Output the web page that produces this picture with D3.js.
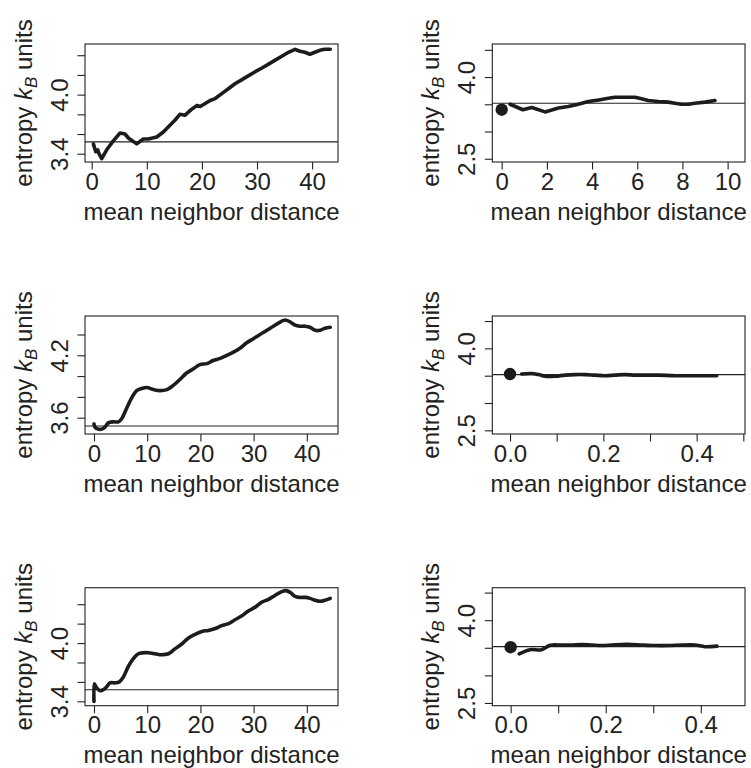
<!DOCTYPE html>
<html><head><meta charset="utf-8">
<script src="https://cdn.jsdelivr.net/npm/d3@7"></script>
<style>body{margin:0;background:#fff} svg{display:block}</style>
</head><body>
<svg id="chart" width="751" height="768"></svg>
<script>
// ---------- data ----------
const referenceEntropy = 3.52;

const p1Dist    = [0.30,0.73,1.09,1.32,1.81,2.72,3.92,5.14,6.04,6.65,8.17,9.37,10.28,11.8,13.0,14.2,15.1,16.0,16.9,18.1,19.1,19.7,20.6,21.5,22.4,23.6,24.8,26.0,27.2,28.4,29.6,30.9,32.1,33.3,34.5,35.7,36.9,37.8,38.7,39.6,40.5,41.4,42.3,43.3];
const p1Entropy = [3.50,3.42,3.44,3.40,3.35,3.44,3.53,3.61,3.60,3.56,3.50,3.55,3.55,3.57,3.62,3.69,3.74,3.80,3.79,3.85,3.89,3.88,3.91,3.94,3.96,4.01,4.06,4.11,4.15,4.19,4.23,4.27,4.31,4.35,4.39,4.43,4.46,4.44,4.43,4.41,4.43,4.45,4.46,4.46];

const p2Dist    = [0.37,0.94,1.33,1.92,2.51,2.95,3.39,3.83,4.30,4.72,5.01,5.45,5.90,6.19,6.49,6.93,7.37,7.67,7.96,8.26,8.55,9.00,9.44];
const p2Entropy = [3.50,3.40,3.44,3.36,3.43,3.46,3.50,3.55,3.58,3.61,3.63,3.63,3.63,3.60,3.57,3.55,3.54,3.52,3.50,3.50,3.52,3.54,3.57];
const p2Dot     = [0, 3.40];

const p3Dist    = [0,0.19,0.82,1.44,2.07,2.70,3.64,4.58,5.2,6.14,7.08,8.03,8.97,9.9,11.2,12.4,13.7,14.9,16.2,17.4,18.7,19.9,21.2,22.4,23.7,24.95,26.2,27.5,28.7,29.97,31.2,32.5,33.7,35.0,35.9,36.9,37.8,38.7,39.7,40.6,41.6,42.5,43.4,44.4];
const p3Entropy = [3.54,3.51,3.49,3.49,3.51,3.55,3.56,3.56,3.59,3.69,3.79,3.86,3.88,3.89,3.87,3.86,3.87,3.91,3.97,4.03,4.07,4.11,4.12,4.15,4.17,4.20,4.23,4.27,4.32,4.36,4.40,4.44,4.48,4.52,4.54,4.52,4.49,4.48,4.48,4.47,4.44,4.44,4.46,4.47];

const p4Dist    = [0.025,0.046,0.061,0.075,0.096,0.118,0.139,0.161,0.182,0.204,0.225,0.246,0.268,0.289,0.318,0.354,0.389,0.425,0.443];
const p4Entropy = [3.53,3.54,3.52,3.49,3.49,3.51,3.52,3.52,3.51,3.50,3.51,3.52,3.51,3.51,3.51,3.50,3.50,3.50,3.50];
const p4Dot     = [0, 3.53];

const p5Dist    = [0.0,0.05,0.19,0.45,1.13,1.76,2.38,3.0,3.95,4.76,5.52,6.46,7.4,8.34,9.28,10.2,11.5,12.7,14.0,15.2,16.5,17.7,19.0,20.3,21.5,22.8,24.0,25.3,26.5,27.8,29.0,30.3,31.5,32.8,34.0,35.3,36.1,36.9,37.8,38.7,39.7,40.6,41.6,42.5,43.4,44.4];
const p5Entropy = [3.40,3.58,3.57,3.54,3.51,3.52,3.55,3.59,3.59,3.60,3.65,3.76,3.84,3.89,3.90,3.90,3.89,3.88,3.89,3.94,3.99,4.05,4.09,4.12,4.13,4.15,4.18,4.20,4.24,4.28,4.33,4.37,4.42,4.45,4.49,4.53,4.54,4.52,4.48,4.47,4.47,4.46,4.44,4.43,4.44,4.46];

const p6Dist    = [0.018,0.041,0.065,0.083,0.107,0.128,0.149,0.171,0.192,0.213,0.234,0.255,0.276,0.304,0.332,0.36,0.388,0.409,0.434];
const p6Entropy = [3.39,3.465,3.465,3.545,3.55,3.55,3.56,3.55,3.54,3.55,3.56,3.56,3.55,3.54,3.54,3.55,3.55,3.52,3.53];
const p6Dot     = [0, 3.51];

const bigXTicks   = [0,10,20,30,40];
const smallXTicks = [0,2,4,6,8,10];
const fracXTicks  = [0,0.1,0.2,0.3,0.4,0.5];
const fracXTicks6 = [0,0.1,0.2,0.3,0.4];
const fracXLabels = [0,0.2,0.4];
const yTicksA  = [3.4,3.6,3.8,4.0,4.2,4.4];
const yLabelsA = [3.4,4.0];
const yTicksB  = [3.6,3.8,4.0,4.2,4.4];
const yLabelsB = [3.6,4.2];
const yTicksC  = [2.5,3.0,3.5,4.0,4.5];
const yLabelsC = [2.5,4.0];

const xTitle = "mean neighbor distance";

// ---------- layout ----------
const svg = d3.select("#chart");
const FONT = "'Liberation Sans', Arial, Helvetica, sans-serif";
const INK = "#222";
const colX = [[85,338],[492.3,745]];
const rowY = [[44,162],[316,434],[587.7,705.7]];

const panels = [
  {dist:p1Dist, ent:p1Entropy, dot:null,  c:0, r:0, xd:[-1.22,44.7],  yd:[3.316,4.514], xt:bigXTicks,   xl:bigXTicks,   yt:yTicksA, yl:yLabelsA, xf:d3.format("d"),   curve:d3.curveLinear},
  {dist:p2Dist, ent:p2Entropy, dot:p2Dot, c:1, r:0, xd:[-0.416,10.77], yd:[2.44,4.607],  xt:smallXTicks, xl:smallXTicks, yt:yTicksC, yl:yLabelsC, xf:d3.format("d"),   curve:d3.curveLinear},
  {dist:p3Dist, ent:p3Entropy, dot:null,  c:0, r:1, xd:[-1.69,45.86],  yd:[3.443,4.578], xt:bigXTicks,   xl:bigXTicks,   yt:yTicksB, yl:yLabelsB, xf:d3.format("d"),   curve:d3.curveCatmullRom},
  {dist:p4Dist, ent:p4Entropy, dot:p4Dot, c:1, r:1, xd:[-0.038,0.5036],yd:[2.433,4.592], xt:fracXTicks,  xl:fracXLabels, yt:yTicksC, yl:yLabelsC, xf:d3.format(".1f"), curve:d3.curveCatmullRom},
  {dist:p5Dist, ent:p5Entropy, dot:null,  c:0, r:2, xd:[-1.69,45.86],  yd:[3.355,4.57],  xt:bigXTicks,   xl:bigXTicks,   yt:yTicksA, yl:yLabelsA, xf:d3.format("d"),   curve:d3.curveCatmullRom},
  {dist:p6Dist, ent:p6Entropy, dot:p6Dot, c:1, r:2, xd:[-0.0386,0.493],yd:[2.45,4.589],  xt:fracXTicks6, xl:fracXLabels, yt:yTicksC, yl:yLabelsC, xf:d3.format(".1f"), curve:d3.curveCatmullRom}
];

const yf = d3.format(".1f");
const has = (arr, v) => arr.some(a => Math.abs(a - v) < 1e-9);

panels.forEach(p => {
  const [x0,x1] = colX[p.c], [y0,y1] = rowY[p.r];
  const x = d3.scaleLinear().domain(p.xd).range([x0,x1]);
  const y = d3.scaleLinear().domain(p.yd).range([y1,y0]);
  const g = svg.append("g");

  // reference line
  g.append("line").attr("x1",x0).attr("x2",x1)
    .attr("y1",y(referenceEntropy)).attr("y2",y(referenceEntropy))
    .attr("stroke",INK).attr("stroke-width",1.1);

  // curve
  const pts = p.dist.map((d,i)=>[d,p.ent[i]]);
  g.append("path").datum(pts)
    .attr("d", d3.line().x(d=>x(d[0])).y(d=>y(d[1])).curve(p.curve))
    .attr("fill","none").attr("stroke","#1c1c1c").attr("stroke-width",3.6)
    .attr("stroke-linejoin","round").attr("stroke-linecap","round");

  if (p.dot) {
    g.append("circle").attr("cx",x(p.dot[0])).attr("cy",y(p.dot[1])).attr("r",6.2).attr("fill","#1c1c1c");
  }

  // box
  g.append("rect").attr("x",x0).attr("y",y0).attr("width",x1-x0).attr("height",y1-y0)
    .attr("fill","none").attr("stroke",INK).attr("stroke-width",1.1);

  // x axis
  const xa = g.append("g").attr("transform",`translate(0,${y1})`)
    .call(d3.axisBottom(x).tickValues(p.xt).tickSize(7.5).tickSizeOuter(0)
      .tickFormat(v => has(p.xl, v) ? p.xf(v) : ""));
  xa.select(".domain").remove();
  xa.selectAll(".tick line").attr("stroke",INK).attr("stroke-width",1.1);
  xa.selectAll(".tick text").attr("y",27.7).attr("dy",0)
    .attr("font-family",FONT).attr("font-size",24).attr("fill",INK);

  // y axis
  const ya = g.append("g").attr("transform",`translate(${x0},0)`)
    .call(d3.axisLeft(y).tickValues(p.yt).tickSize(7.5).tickSizeOuter(0)
      .tickFormat(v => has(p.yl, v) ? yf(v) : ""));
  ya.select(".domain").remove();
  ya.selectAll(".tick line").attr("stroke",INK).attr("stroke-width",1.1);
  ya.selectAll(".tick text").attr("transform","rotate(-90)").attr("x",0).attr("y",-17).attr("dy",0)
    .attr("text-anchor","middle").attr("font-family",FONT).attr("font-size",24).attr("fill",INK);

  // x title
  g.append("text").attr("x",(x0+x1)/2).attr("y",y1+57.7).attr("text-anchor","middle")
    .attr("font-family",FONT).attr("font-size",24).attr("fill",INK).text(xTitle);

  // y title
  const yt = g.append("text")
    .attr("transform",`translate(${x0-53},${(y0+y1)/2}) rotate(-90)`)
    .attr("text-anchor","middle").attr("font-family",FONT).attr("font-size",24).attr("fill",INK);
  yt.append("tspan").text("entropy ");
  yt.append("tspan").attr("font-style","italic").text("k");
  yt.append("tspan").attr("font-style","italic").attr("font-size",17).attr("dy",5).text("B");
  yt.append("tspan").attr("dy",-5).text(" units");
});
</script>
</body></html>
